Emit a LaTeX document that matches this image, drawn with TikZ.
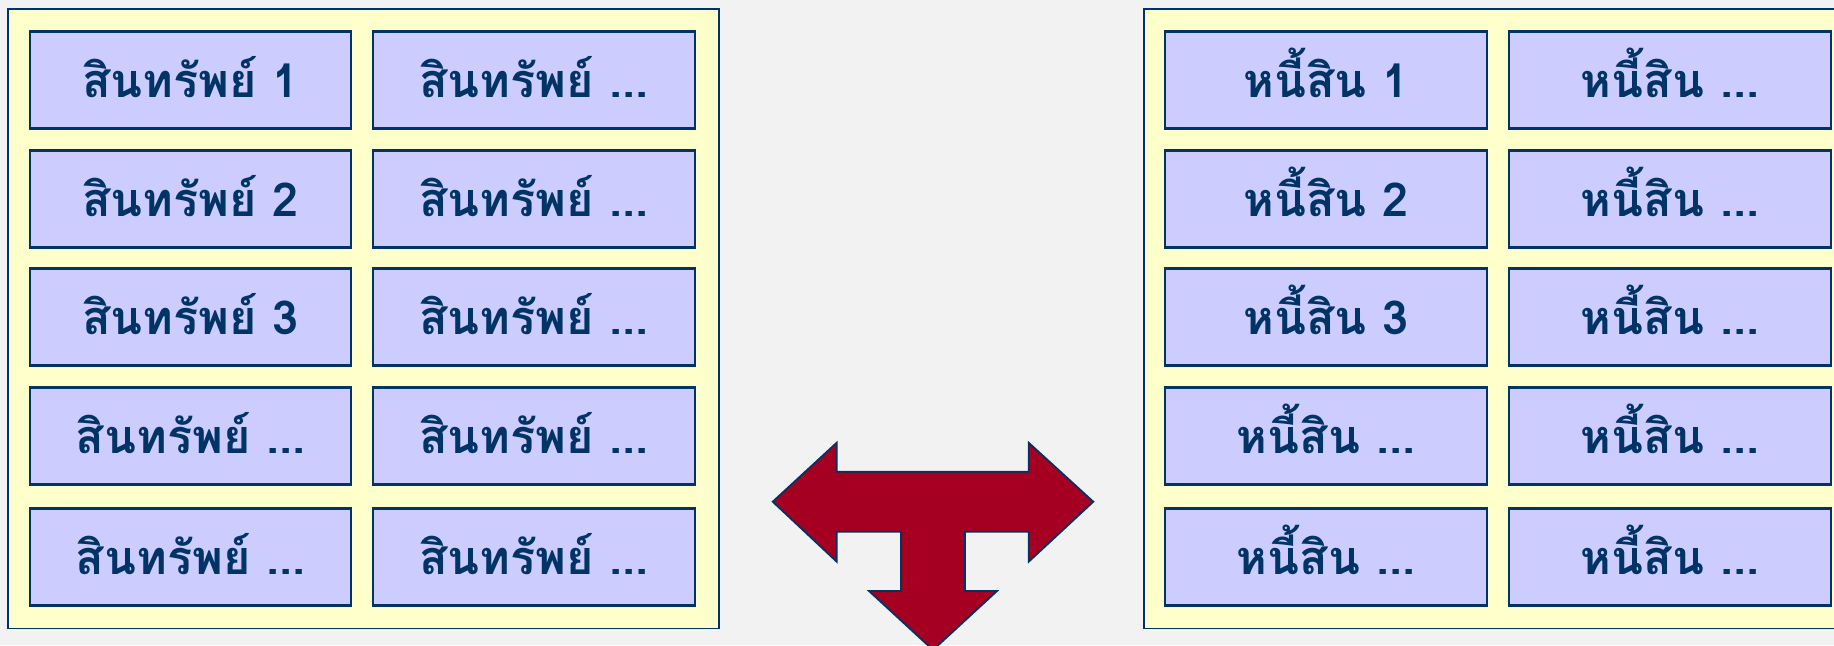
\documentclass[tikz,border=0pt]{standalone}
\usepackage{fontspec}
\newfontfamily\thaifont[Script=Thai]{Loma}
\definecolor{navy}{HTML}{003366}
\definecolor{paleyellow}{HTML}{FFFFCC}
\definecolor{lilac}{HTML}{CCCCFF}
\definecolor{darkred}{HTML}{A50021}
\definecolor{slidebg}{HTML}{F2F2F2}

\begin{document}
\begin{tikzpicture}[x=0.01cm,y=-0.01cm,
  panel/.style={draw=navy,fill=paleyellow,line width=0.5pt,minimum height=6.19cm},
  item/.style={draw=navy,fill=lilac,line width=0.6pt,minimum width=3.21cm,minimum height=0.97cm,
    text height=12pt,text depth=2pt,
    font=\thaifont\bfseries\fontsize{13.3}{16}\selectfont,text=navy}]
  \path[use as bounding box,fill=slidebg] (0,0) rectangle (1834,645);

  % the two frames
  \node[panel,minimum width=7.11cm] (assets) at (363.5,318.7) {};
  \node[panel,minimum width=7.05cm] (debts) at (1496.5,318.7) {};

  % boxes, one row at a time
  \foreach \y/\n [count=\i] in {80/1,199/2,317/3,436/{...},557/{...}} {
    \node[item] (a\i) at (190.6,\y) {สินทรัพย์ \n};
    \node[item] (b\i) at (534,\y) {สินทรัพย์ ...};
    \node[item] (l\i) at (1326,\y) {หนี้สิน \n};
    \node[item] (m\i) at (1670,\y) {หนี้สิน ...};
  }

  % three-way block arrow
  \draw[fill=darkred,draw=navy,line width=0.5pt]
    (772.7,501.7) -- (836.7,442.7) -- (836.7,471.7) -- (1028.7,471.7)
    -- (1028.7,442.7) -- (1093.3,501.7) -- (1028.7,561.7) -- (1028.7,531.7)
    -- (965,531.7) -- (965,591) -- (997,591) -- (933,650) -- (869,591)
    -- (901,591) -- (901,531.7) -- (836.7,531.7) -- (836.7,561.7) -- cycle;
\end{tikzpicture}
\end{document}
